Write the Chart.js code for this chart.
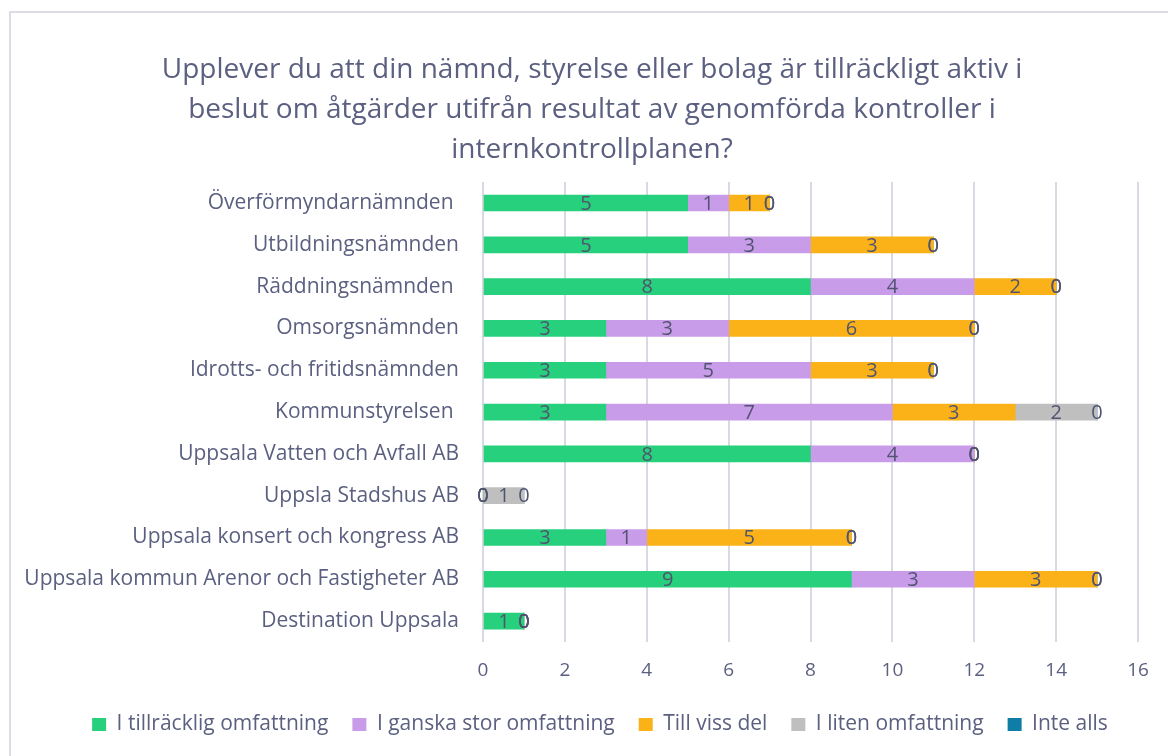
<!DOCTYPE html>
<html>
<head>
<meta charset="utf-8">
<script src="https://cdn.jsdelivr.net/npm/chart.js@4"></script>
<style>
  html, body { margin: 0; padding: 0; background: #fff; }
  #wrap { position: relative; width: 1168px; height: 756px; overflow: hidden; }
  #frame { position: absolute; left: 9px; top: 11px; width: 1200px; height: 800px; border: 2px solid #dcdce6; }
  canvas { position: absolute; left: 0; top: 0; }
</style>
</head>
<body>
<div id="wrap">
  <div id="frame"></div>
  <canvas id="myChart" width="1168" height="756"></canvas>
</div>
<script>
const categories = [
  'Överförmyndarnämnden ',
  'Utbildningsnämnden',
  'Räddningsnämnden ',
  'Omsorgsnämnden',
  'Idrotts- och fritidsnämnden',
  'Kommunstyrelsen ',
  'Uppsala Vatten och Avfall AB',
  'Uppsla Stadshus AB',
  'Uppsala konsert och kongress AB',
  'Uppsala kommun Arenor och Fastigheter AB',
  'Destination Uppsala'
];
const tillracklig = [5, 5, 8, 3, 3, 3, 8, 0, 3, 9, 1];
const ganskaStor  = [1, 3, 4, 3, 5, 7, 4, 0, 1, 3, 0];
const tillVissDel = [1, 3, 2, 6, 3, 3, 0, 0, 5, 3, 0];
const litenOmf    = [0, 0, 0, 0, 0, 2, 0, 1, 0, 0, 0];
const inteAlls    = [0, 0, 0, 0, 0, 0, 0, 0, 0, 0, 0];
const titleLines = [
  'Upplever du att din nämnd, styrelse eller bolag är tillräckligt aktiv i',
  'beslut om åtgärder utifrån resultat av genomförda kontroller i',
  'internkontrollplanen?'
];

const textColor = '#5b5f80';
const fontFam = '"Open Sans", sans-serif';

// labels in the middle of each segment, zeros end up on the bar end
const barLabels = {
  id: 'barLabels',
  afterDatasetsDraw(chart) {
    const ctx = chart.ctx;
    ctx.save();
    ctx.font = '20px ' + fontFam;
    ctx.fillStyle = '#50546f';
    ctx.textAlign = 'center';
    ctx.textBaseline = 'middle';
    chart.data.datasets.forEach((ds, i) => {
      const meta = chart.getDatasetMeta(i);
      meta.data.forEach((bar, j) => {
        const v = ds.data[j];
        const cx = (bar.x + bar.base) / 2;
        ctx.fillText(String(v), cx, bar.y + 1);
      });
    });
    ctx.restore();
  }
};

// title and legend sit a bit right of the plot centre in the original
const shiftBoxes = {
  id: 'shiftBoxes',
  afterLayout(chart) {
    chart.titleBlock.left += 13;
    chart.titleBlock.right += 13;
    chart.legend.left += 21;
    chart.legend.right += 21;
  }
};

function ds(label, data, color) {
  return { label: label, data: data, backgroundColor: color, borderWidth: 0, barThickness: 16 };
}

const myChart = new Chart(document.getElementById('myChart'), {
  type: 'bar',
  data: {
    labels: categories,
    datasets: [
      ds('I tillräcklig omfattning', tillracklig, '#27d07d'),
      ds('I ganska stor omfattning', ganskaStor, '#c99cea'),
      ds('Till viss del', tillVissDel, '#fbb218'),
      ds('I liten omfattning', litenOmf, '#bfbfbf'),
      ds('Inte alls', inteAlls, '#0e7ea6')
    ]
  },
  options: {
    indexAxis: 'y',
    responsive: false,
    animation: false,
    layout: { padding: { left: 20, right: 30, top: 10, bottom: 11 } },
    scales: {
      x: {
        stacked: true,
        min: 0,
        max: 16,
        afterFit(scale) { scale.height = 48; },
        ticks: { stepSize: 2, padding: 17, color: textColor, font: { family: fontFam, size: 19 } },
        grid: { color: '#d9d9e3', lineWidth: 2, drawTicks: false },
        border: { display: false }
      },
      y: {
        stacked: true,
        afterFit(scale) { scale.width = 463; },
        ticks: { padding: 16, color: textColor, font: { family: fontFam, size: 21 } },
        grid: { display: false },
        border: { display: false }
      }
    },
    plugins: {
      title: {
        display: true,
        text: titleLines,
        color: textColor,
        font: { family: fontFam, size: 28, weight: 'normal', lineHeight: 1.43 },
        padding: { top: 40, bottom: 12 }
      },
      legend: {
        position: 'bottom',
        labels: {
          color: textColor,
          boxWidth: 14,
          boxHeight: 13,
          padding: 24,
          font: { family: fontFam, size: 21 }
        }
      },
      tooltip: { enabled: false }
    }
  },
  plugins: [barLabels, shiftBoxes]
});
</script>
</body>
</html>
